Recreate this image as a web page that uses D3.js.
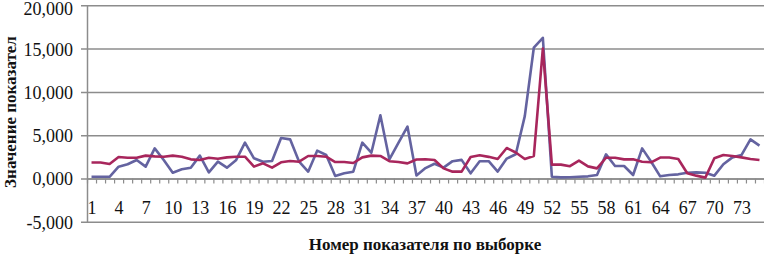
<!DOCTYPE html>
<html>
<head>
<meta charset="utf-8">
<script src="https://cdn.jsdelivr.net/npm/d3@7"></script>
<style>
  body { margin: 0; background: #fff; }
  svg { display: block; }
  text { font-family: "Liberation Serif", "DejaVu Serif", serif; }
</style>
</head>
<body>
<div id="draw_here"></div>
<script type="text/javascript">
    // Data
    categories = d3.range(1, 76)
    blueValues = [200, 200, 200, 1370, 1650, 2140, 1370, 3480, 2140, 670,
        1060, 1250, 2640, 710, 1940, 1250, 2100, 4150, 2330, 1940,
        2020, 4680, 4520, 1940, 790, 3210, 2710, 290, 600, 790,
        4140, 2980, 7300, 2200, 4100, 6000, 350, 1200, 1700, 1250,
        2000, 2150, 600, 2000, 2000, 800, 2300, 2800, 7200, 15100,
        16250, 200, 130, 150, 210, 250, 400, 2790, 1440, 1440,
        400, 3480, 1940, 250, 400, 480, 670, 710, 670, 330,
        1640, 2440, 2710, 4520, 3790]
    redValues = [1850, 1850, 1670, 2480, 2400, 2400, 2640, 2560, 2520, 2640,
        2520, 2210, 2140, 2400, 2290, 2440, 2520, 2520, 1370, 1750,
        1250, 1870, 2020, 1940, 2600, 2600, 2520, 1900, 1900, 1790,
        2440, 2640, 2600, 2000, 1900, 1750, 2200, 2230, 2140, 1170,
        790, 790, 2480, 2680, 2500, 2250, 3520, 3000, 2250, 2600,
        15000, 1600, 1600, 1420, 2060, 1400, 1170, 2400, 2400, 2210,
        2210, 1940, 1870, 2420, 2420, 2250, 600, 330, 100, 2330,
        2710, 2600, 2440, 2250, 2140]
    yTicks = [-5000, 0, 5000, 10000, 15000, 20000]
    yTickLabels = ["-5,000", "0,000", "5,000", "10,000", "15,000", "20,000"]
    xTickLabels = d3.range(1, 76, 3)
    yTitle = "Значение показател"
    xTitle = "Номер показателя по выборке"

    canvas = ({width: 764, height: 263})
    margin = ({top: 5.3, right: 0, bottom: 41.2, left: 87})
    blue = "#6463a0"
    red = "#a8265c"
    grid = "#8c8c8c"

    x = d3.scaleLinear()
        .domain([0.5, categories.length + 0.5])
        .range([margin.left, canvas.width - margin.right])

    y = d3.scaleLinear()
        .domain([-5000, 20000])
        .range([canvas.height - margin.bottom, margin.top])

    var svg = d3.select("div#draw_here").append("svg")
        .attr("width", canvas.width)
        .attr("height", canvas.height)
        .attr("viewBox", [0, 0, canvas.width, canvas.height])

    // y axis with gridlines
    svg.append("g")
        .attr("transform", `translate(${margin.left},0)`)
        .call(d3.axisLeft(y)
            .tickValues(yTicks)
            .tickSize(-(canvas.width - margin.left - margin.right))
            .tickSizeOuter(0)
            .tickFormat((d, i) => yTickLabels[i]))
        .call(g => g.attr("font-family", null))
        .call(g => g.select(".domain").attr("stroke", grid).attr("stroke-width", 1.5))
        .call(g => g.selectAll(".tick line").attr("stroke", grid).attr("stroke-width", 1.5).attr("x1", -6))
        .call(g => g.selectAll(".tick text")
            .attr("x", -14)
            .attr("dy", "0.36em")
            .attr("fill", "#111")
            .style("font-size", "18px"))
        .call(g => g.selectAll(".tick:last-of-type text").attr("dy", "0.5em"))

    // category axis at zero: ticks between categories
    svg.append("g")
        .attr("transform", `translate(0,${y(0)})`)
        .call(d3.axisBottom(x)
            .tickValues(d3.range(0.5, categories.length + 1, 1))
            .tickSize(5)
            .tickSizeOuter(0)
            .tickFormat(""))
        .call(g => g.select(".domain").attr("stroke", grid).attr("stroke-width", 1.5))
        .call(g => g.selectAll(".tick line").attr("stroke", grid).attr("stroke-width", 1.2))

    // category labels
    svg.append("g")
        .attr("transform", `translate(0,${y(0)})`)
        .call(d3.axisBottom(x)
            .tickValues(xTickLabels)
            .tickSize(0)
            .tickFormat(d => d))
        .call(g => g.attr("font-family", null))
        .call(g => g.select(".domain").remove())
        .call(g => g.selectAll(".tick text")
            .attr("y", 0)
            .attr("dy", "1.95em")
            .attr("fill", "#111")
            .style("font-size", "18px"))

    // lines
    line = d3.line()
        .x(d => x(d[0]))
        .y(d => y(d[1]))

    svg.append("path")
        .attr("fill", "none")
        .attr("stroke", blue)
        .attr("stroke-width", 2.6)
        .attr("stroke-linejoin", "round")
        .attr("d", line(d3.zip(categories, blueValues)))

    svg.append("path")
        .attr("fill", "none")
        .attr("stroke", red)
        .attr("stroke-width", 2.6)
        .attr("stroke-linejoin", "round")
        .attr("d", line(d3.zip(categories, redValues)))

    // titles
    svg.append("text")
        .attr("transform", `translate(16,112) rotate(-90)`)
        .attr("text-anchor", "middle")
        .attr("fill", "#111")
        .style("font-size", "17px")
        .style("font-weight", "bold")
        .text(yTitle)

    svg.append("text")
        .attr("x", 425)
        .attr("y", 250)
        .attr("text-anchor", "middle")
        .attr("fill", "#111")
        .style("font-size", "17px")
        .style("font-weight", "bold")
        .text(xTitle)
</script>
</body>
</html>
